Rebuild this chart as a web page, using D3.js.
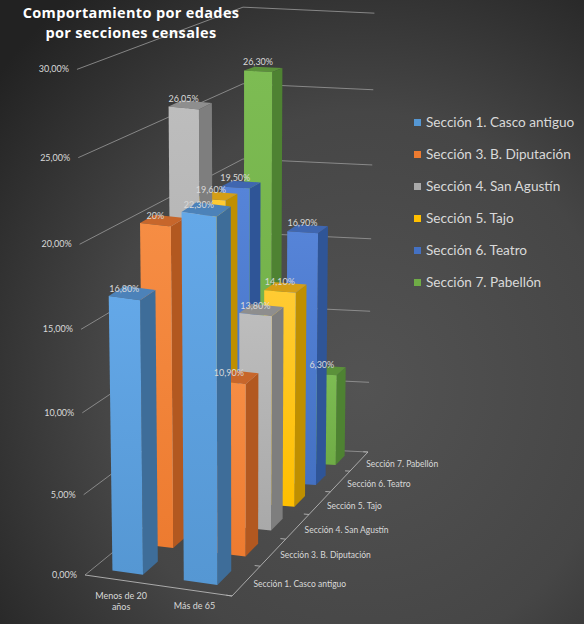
<!DOCTYPE html>
<html>
<head>
<meta charset="utf-8">
<script src="https://cdn.jsdelivr.net/npm/d3@7/dist/d3.min.js"></script>
<style>
  html, body { margin: 0; padding: 0; background: #333; }
  svg { display: block; }
</style>
</head>
<body>
<svg id="chart" width="584" height="624"></svg>
<script>
// ---------------- DATA ----------------
const categories = ["Menos de 20 años", "Más de 65"];
const seriesNames = [
  "Sección 1. Casco antiguo",
  "Sección 3. B. Diputación",
  "Sección 4. San Agustín",
  "Sección 5. Tajo",
  "Sección 6. Teatro",
  "Sección 7. Pabellón"
];
const menos20 = [16.80, 20, 26.05, 19.60, 19.50, 26.30];
const mas65 = [22.30, 10.90, 13.80, 14.10, 16.90, 6.30];
const tickValues = [0, 5, 10, 15, 20, 25, 30];
const titleLines = ["Comportamiento por edades", "por secciones censales"];

// ---------------- STYLE ----------------
const palette = [
  { front: ["#64a8e8", "#5597d3"], top: "#4c82b9", side: "#3e6d99" },
  { front: ["#f68d44", "#ed7b30"], top: "#c7662b", side: "#b25820" },
  { front: ["#bdbdbd", "#a9a9a9"], top: "#8e8e8e", side: "#7e7e7e" },
  { front: ["#ffcb33", "#ffbf00"], top: "#d49e16", side: "#bf8f00" },
  { front: ["#5684d8", "#4471c3"], top: "#3f66b0", side: "#2f5597" },
  { front: ["#7dbc53", "#6fac46"], top: "#5b913a", side: "#4e8232" }
];
const textColor = "#d9d9d9";
const gridColor = "#9a9a9a";

const svg = d3.select("#chart");
const defs = svg.append("defs");
const bg = defs.append("radialGradient").attr("id", "bg")
  .attr("cx", "0.62").attr("cy", "0.62").attr("r", "0.8");
bg.append("stop").attr("offset", "0").attr("stop-color", "#535353");
bg.append("stop").attr("offset", "0.55").attr("stop-color", "#464646");
bg.append("stop").attr("offset", "1").attr("stop-color", "#222222");
svg.append("rect").attr("width", 584).attr("height", 624).attr("fill", "url(#bg)");

palette.forEach((p, i) => {
  const g = defs.append("linearGradient").attr("id", "fg" + i)
    .attr("x1", 0).attr("y1", 0).attr("x2", 0).attr("y2", 1);
  g.append("stop").attr("offset", 0).attr("stop-color", p.front[0]);
  g.append("stop").attr("offset", 1).attr("stop-color", p.front[1]);
});

// ---------------- SCALES ----------------
const uScale = d3.scaleBand().domain(categories).range([0, 1]).paddingInner(0.56).paddingOuter(0.28);
const vScale = d3.scaleBand().domain(seriesNames).range([0, 1]).paddingInner(0.52).paddingOuter(0.26);
const zScale = d3.scaleLinear().domain([0, 30]).range([0, 30]);
const fmt = v => (Number.isInteger(v) ? v : v.toFixed(2).replace(".", ",")) + "%";
const tickFmt = v => v.toFixed(2).replace(".", ",") + "%";

// ---------------- PROJECTION (floor homography + vertical) ----------------
const P0 = [85, 575], P1 = [232, 596], P2 = [368, 452], P3 = [243, 446];
const H = (function () {
  const [x0, y0] = P0, [x1, y1] = P1, [x2, y2] = P2, [x3, y3] = P3;
  const dx1 = x1 - x2, dx2 = x3 - x2, dx3 = x0 - x1 + x2 - x3;
  const dy1 = y1 - y2, dy2 = y3 - y2, dy3 = y0 - y1 + y2 - y3;
  const D = dx1 * dy2 - dx2 * dy1;
  const g = (dx3 * dy2 - dx2 * dy3) / D;
  const h = (dx1 * dy3 - dx3 * dy1) / D;
  return {
    a: x1 - x0 + g * x1, b: x3 - x0 + h * x3, c: x0,
    d: y1 - y0 + g * y1, e: y3 - y0 + h * y3, f: y0, g, h
  };
})();
function project(u, v, val) {
  const W = H.g * u + H.h * v + 1;
  const xf = (H.a * u + H.b * v + H.c) / W;
  const yf = (H.d * u + H.e * v + H.f) / W;
  const z = zScale(val);
  const s = 15.9 - 2.1 * v;
  return [xf + (xf - 243) * 0.0017 * z, yf - s * (z + 0.002 * z * z)];
}
const line = d3.line();

// ---------------- GRIDLINES (left & back walls) ----------------
const grid = svg.append("g");
tickValues.forEach(t => {
  grid.append("path")
    .attr("d", line([project(0, 0, t), project(0, 1, t), project(1, 1, t)]))
    .attr("fill", "none").attr("stroke", gridColor).attr("stroke-width", 0.8);
  const p = project(0, 0, t);
  svg.append("text").attr("x", p[0] - 8).attr("y", p[1] + 3)
    .attr("text-anchor", "end").attr("font-family", "Lato, 'Open Sans', sans-serif")
    .attr("font-size", 9).attr("fill", textColor).text(tickFmt(t));
});

// floor axis lines
svg.append("path").attr("d", line([project(0, 0, 0), project(1, 0, 0), project(1, 1, 0)]))
  .attr("fill", "none").attr("stroke", "#b5b5b5").attr("stroke-width", 0.9);
// ticks on depth axis
d3.range(seriesNames.length + 1).forEach(k => {
  const v = k / seriesNames.length;
  svg.append("path").attr("d", line([project(1, v, 0), project(0.965, v, 0)]))
    .attr("stroke", "#b5b5b5").attr("stroke-width", 0.9);
});

// ---------------- BARS ----------------
const bars = [];
seriesNames.forEach((s, j) => {
  categories.forEach((c, i) => {
    bars.push({ j, i, s, c, val: i === 0 ? menos20[j] : mas65[j] });
  });
});
bars.sort((A, B) => (B.j - A.j) || (A.i - B.i));

const barG = svg.append("g");
bars.forEach(b => {
  const u0 = uScale(b.c), u1 = u0 + uScale.bandwidth();
  const v0 = vScale(b.s), v1 = v0 + vScale.bandwidth();
  const h = b.val, col = palette[b.j];
  const g = barG.append("g");
  g.append("path").attr("d", line([project(u1, v0, 0), project(u1, v1, 0), project(u1, v1, h), project(u1, v0, h)]) + "Z")
    .attr("fill", col.side);
  g.append("path").attr("d", line([project(u0, v0, h), project(u1, v0, h), project(u1, v1, h), project(u0, v1, h)]) + "Z")
    .attr("fill", col.top);
  g.append("path").attr("d", line([project(u0, v0, 0), project(u1, v0, 0), project(u1, v0, h), project(u0, v0, h)]) + "Z")
    .attr("fill", "url(#fg" + b.j + ")");
});

// data labels
bars.forEach(b => {
  const u0 = uScale(b.c), u1 = u0 + uScale.bandwidth();
  const v0 = vScale(b.s);
  const p = project((u0 + u1) / 2, v0, b.val);
  svg.append("text").attr("x", p[0]).attr("y", p[1] - 6)
    .attr("text-anchor", "middle").attr("font-family", "Lato, 'Open Sans', sans-serif")
    .attr("font-size", 9).attr("fill", textColor).text(fmt(b.val));
});

// category labels
categories.forEach((c, i) => {
  const u = uScale(c) + uScale.bandwidth() / 2;
  const p = project(u, 0, 0);
  const words = i === 0 ? ["Menos de 20", "años"] : [c];
  const t = svg.append("text").attr("text-anchor", "middle")
    .attr("font-family", "Lato, 'Open Sans', sans-serif").attr("font-size", 9).attr("fill", textColor);
  words.forEach((w, k) => {
    t.append("tspan").attr("x", p[0] + 2).attr("y", p[1] + 19 + k * 11).text(w);
  });
});

// series labels along depth axis
seriesNames.forEach(s => {
  const v = vScale(s) + vScale.bandwidth() / 2;
  const p = project(1, v, 0);
  svg.append("text").attr("x", p[0] + 7).attr("y", p[1] + 6)
    .attr("font-family", "Lato, 'Open Sans', sans-serif").attr("font-size", 8.5)
    .attr("fill", textColor).text(s);
});

// ---------------- TITLE ----------------
titleLines.forEach((tl, k) => {
  svg.append("text").attr("x", 131).attr("y", 18 + k * 19.5)
    .attr("text-anchor", "middle").attr("font-family", "'Open Sans', sans-serif")
    .attr("font-weight", "bold").attr("font-size", 14.5).attr("letter-spacing", 0.35)
    .attr("fill", "#ffffff").text(tl);
});

// ---------------- LEGEND ----------------
const legend = svg.append("g");
seriesNames.forEach((s, j) => {
  const y = 122.5 + j * 32;
  legend.append("rect").attr("x", 414).attr("y", y - 3.5).attr("width", 7).attr("height", 7)
    .attr("fill", palette[j].front[1]);
  legend.append("text").attr("x", 426).attr("y", y + 4.5)
    .attr("font-family", "Lato, 'Open Sans', sans-serif").attr("font-size", 13.6)
    .attr("fill", textColor).text(s);
});
</script>
</body>
</html>
